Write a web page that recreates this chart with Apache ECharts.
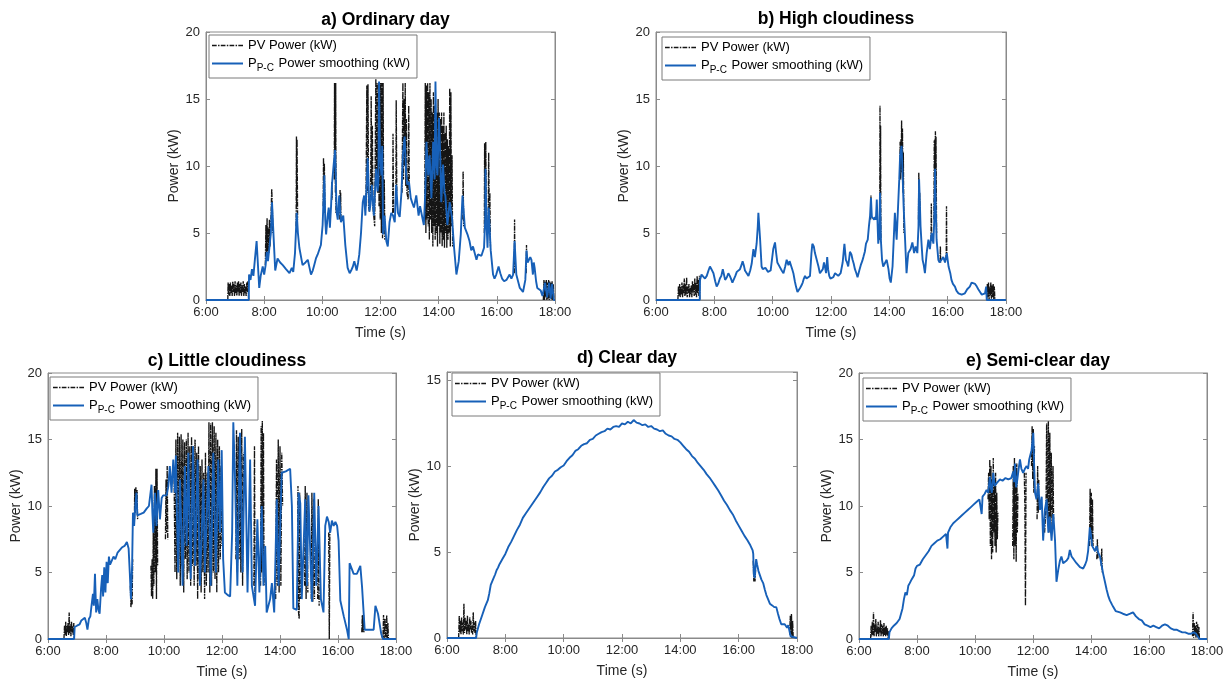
<!DOCTYPE html>
<html><head><meta charset="utf-8">
<script src="https://cdn.jsdelivr.net/npm/echarts@6/dist/echarts.min.js"></script>
<style>html,body{margin:0;padding:0;background:#fff}#c{width:1230px;height:680px}</style>
</head><body><div id="c"></div><script>
// ---------- data (time in hours, power in kW) ----------
const titles = ['a) Ordinary day','b) High cloudiness','c) Little cloudiness','d) Clear day','e) Semi-clear day'];
const legendNames = ['PV Power (kW)','PP-C Power smoothing (kW)'];
const xTickHours = [6,8,10,12,14,16,18];
const yMaxes = [20,20,20,15.5,20];

const aSm = [[6,0],[7.47,0],[7.48,1.9],[7.53,1.5],[7.58,2.3],[7.63,1.8],[7.68,3.0],[7.74,4.4],[7.78,4.5],[7.83,0.9],[7.88,1.8],[7.95,2.5],[8.0,1.9],[8.05,2.6],[8.09,3.6],[8.13,2.9],[8.18,3.9],[8.23,5.0],[8.27,7.3],[8.32,4.9],[8.38,2.2],[8.46,3.1],[8.55,2.8],[8.64,2.6],[8.75,2.3],[8.87,2.0],[8.95,2.4],[9.0,2.1],[9.06,3.5],[9.12,6.5],[9.16,5.0],[9.21,3.9],[9.32,2.6],[9.42,2.8],[9.5,3.0],[9.56,2.4],[9.61,1.9],[9.67,2.2],[9.72,2.6],[9.78,3.1],[9.84,3.4],[9.95,4.1],[10.01,5.6],[10.05,8.0],[10.07,9.3],[10.1,6.0],[10.13,4.9],[10.18,6.2],[10.22,6.9],[10.26,5.4],[10.3,7.0],[10.33,8.6],[10.39,10.1],[10.44,11.2],[10.49,6.6],[10.53,6.0],[10.58,7.8],[10.64,5.8],[10.72,6.3],[10.79,4.1],[10.87,2.4],[10.94,2.0],[10.99,2.2],[11.05,2.5],[11.1,2.9],[11.18,2.2],[11.23,2.8],[11.27,3.4],[11.33,5.0],[11.39,7.3],[11.44,7.8],[11.48,6.3],[11.56,10.6],[11.62,6.6],[11.66,7.2],[11.7,8.6],[11.77,6.3],[11.85,9.8],[11.9,8.1],[11.93,9.0],[11.95,16.3],[11.98,11.0],[12.03,9.3],[12.06,11.5],[12.09,4.9],[12.14,6.3],[12.2,4.4],[12.25,4.0],[12.31,5.8],[12.37,6.5],[12.43,6.3],[12.49,5.8],[12.54,8.6],[12.6,6.5],[12.66,6.2],[12.72,8.0],[12.77,10.8],[12.83,12.2],[12.88,9.5],[12.92,8.6],[12.98,8.8],[13.04,7.6],[13.1,7.2],[13.15,6.9],[13.23,7.8],[13.31,6.3],[13.36,7.0],[13.41,7.1],[13.49,5.6],[13.54,8.0],[13.58,11.8],[13.64,9.3],[13.69,10.8],[13.75,7.6],[13.81,11.8],[13.86,9.0],[13.89,16.3],[13.93,10.0],[13.96,9.3],[14.01,13.6],[14.05,11.0],[14.09,7.3],[14.15,10.1],[14.2,8.0],[14.23,7.8],[14.3,5.6],[14.38,7.3],[14.46,6.1],[14.53,3.9],[14.61,1.9],[14.69,2.9],[14.76,4.9],[14.82,7.8],[14.9,5.4],[14.99,4.9],[15.06,4.4],[15.12,3.7],[15.18,4.0],[15.24,3.9],[15.3,3.0],[15.35,3.4],[15.41,3.5],[15.47,3.3],[15.56,3.9],[15.6,6.0],[15.61,9.8],[15.64,6.0],[15.68,3.9],[15.72,6.9],[15.76,5.0],[15.79,3.7],[15.87,1.9],[15.92,1.6],[15.98,1.9],[16.06,2.5],[16.12,2.0],[16.18,1.6],[16.25,1.4],[16.33,1.5],[16.44,1.9],[16.5,1.6],[16.56,1.9],[16.61,4.4],[16.67,1.9],[16.73,1.4],[16.79,0.9],[16.9,0.6],[16.98,1.5],[17.02,3.7],[17.06,2.8],[17.1,2.9],[17.15,3.2],[17.19,3.0],[17.24,1.9],[17.27,2.8],[17.3,2.4],[17.35,1.4],[17.39,0.9],[17.45,1.0],[17.51,0.7],[17.57,0.3],[17.62,0.2],[17.66,1.3],[17.7,1.3],[17.73,0.2],[17.76,0.2],[17.8,1.3],[17.82,1.3],[17.85,0.1],[17.87,0.1],[17.9,1.2],[17.93,1.2],[17.96,0],[18,0]];
const aPv = [[6.75,0],[6.76,1.3],[6.78,0.4],[6.8,1.2],[6.82,0.3],[6.84,1.3],[6.86,0.5],[6.88,1.1],[6.9,0.3],[6.92,1.4],[6.94,0.6],[6.96,1.2],[6.98,0.3],[7.0,1.4],[7.02,0.5],[7.04,1.1],[7.06,0.3],[7.08,1.3],[7.1,0.6],[7.12,1.4],[7.14,0.3],[7.16,1.2],[7.18,0.5],[7.2,1.3],[7.22,0.3],[7.24,1.1],[7.26,0.6],[7.28,1.4],[7.3,0.3],[7.32,1.2],[7.34,0.5],[7.36,1.0],[7.38,0.3],[7.4,1.3],[7.42,0.6],[7.44,1.4],[7.46,0.4],[7.47,0],[7.48,null],
[8.04,2.6],[8.06,5.6],[8.08,3.2],[8.1,6.1],[8.12,3.0],[8.14,5.4],[8.16,3.5],[8.18,6.0],[8.2,4.0],[8.24,6.5],[8.26,8.3],[8.28,7.0],[8.3,5.0],[8.31,null],
[9.1,5.5],[9.11,12.2],[9.12,7.0],[9.13,12.0],[9.15,6.0],[9.16,null],
[10.03,7.0],[10.04,10.6],[10.06,8.5],[10.07,10.2],[10.09,6.5],[10.1,null],
[10.32,7.5],[10.33,8.8],[10.34,7.5],[10.35,null],
[10.41,9.0],[10.42,16.2],[10.43,9.0],[10.44,16.1],[10.45,8.0],[10.46,16.2],[10.47,6.5],[10.48,null],
[10.6,6.0],[10.61,8.2],[10.62,6.5],[10.63,8.0],[10.64,5.8],[10.65,null],
[11.5,7.0],[11.53,16.0],[11.55,8.0],[11.57,16.1],[11.59,7.0],[11.62,6.6],[11.66,8.0],[11.68,15.2],[11.7,8.6],[11.72,13.0],[11.74,7.0],[11.8,5.5],[11.84,16.5],[11.86,9.0],[11.88,16.2],[11.9,8.0],[11.93,16.2],[11.95,7.0],[11.97,16.2],[11.99,6.0],[12.01,16.2],[12.03,5.0],[12.05,16.2],[12.07,4.6],[12.09,16.2],[12.11,5.5],[12.13,9.0],[12.15,4.5],[12.16,null],
[12.42,6.5],[12.43,12.4],[12.45,6.5],[12.46,null],
[12.53,8.0],[12.54,14.9],[12.56,8.0],[12.57,null],
[12.74,8.0],[12.77,16.2],[12.79,9.0],[12.81,15.0],[12.83,10.0],[12.85,16.2],[12.87,8.5],[12.89,13.5],[12.91,8.0],[12.95,7.5],[12.97,14.5],[12.99,8.5],[13.0,null],
[13.52,6.0],[13.54,16.2],[13.56,5.0],[13.58,16.0],[13.6,6.0],[13.62,16.2],[13.64,5.5],[13.66,15.5],[13.68,4.5],[13.7,16.2],[13.72,6.0],[13.74,15.0],[13.76,5.0],[13.78,14.0],[13.8,4.0],[13.82,15.5],[13.84,5.5],[13.86,14.5],[13.88,4.5],[13.9,13.5],[13.92,5.0],[13.94,14.0],[13.96,4.0],[13.98,15.0],[14.0,5.5],[14.02,14.0],[14.04,4.2],[14.06,13.5],[14.08,5.0],[14.1,14.0],[14.12,4.0],[14.14,13.0],[14.16,4.5],[14.18,14.0],[14.2,3.9],[14.22,12.5],[14.24,5.0],[14.26,13.0],[14.28,3.9],[14.3,12.0],[14.32,4.5],[14.34,11.5],[14.36,5.0],[14.38,15.8],[14.4,4.0],[14.42,15.5],[14.44,5.5],[14.46,10.8],[14.48,4.0],[14.5,null],
[14.83,6.0],[14.84,9.6],[14.86,5.5],[14.87,null],
[15.57,5.0],[15.58,11.7],[15.6,6.0],[15.62,11.8],[15.64,5.5],[15.7,5.0],[15.72,11.0],[15.74,6.0],[15.76,8.0],[15.78,4.0],[15.79,null],
[16.6,2.0],[16.61,6.0],[16.62,2.5],[16.63,null],
[17.01,2.0],[17.02,4.1],[17.03,2.8],[17.04,null],
[17.6,0],[17.62,1.5],[17.64,0],[17.66,1.4],[17.68,0.2],[17.7,1.5],[17.72,0],[17.74,1.3],[17.76,0.1],[17.78,1.5],[17.8,0],[17.82,1.4],[17.84,0.2],[17.86,1.3],[17.88,0],[17.9,1.4],[17.92,0],[17.94,1.2],[17.96,0]];

const bSm = [[6,0],[7.5,0],[7.51,1.5],[7.56,1.9],[7.62,2.0],[7.68,1.6],[7.74,1.8],[7.8,2.2],[7.85,2.5],[7.9,2.3],[7.97,2.0],[8.03,1.4],[8.08,1.0],[8.13,1.2],[8.19,1.6],[8.24,1.8],[8.29,2.3],[8.33,1.9],[8.37,1.5],[8.43,1.7],[8.48,2.0],[8.53,1.8],[8.57,1.6],[8.62,1.3],[8.65,1.2],[8.72,1.8],[8.77,2.1],[8.83,2.2],[8.88,2.3],[8.93,2.6],[8.97,2.9],[9.01,2.6],[9.05,2.2],[9.11,2.0],[9.17,1.8],[9.23,2.2],[9.28,2.7],[9.34,3.8],[9.39,3.2],[9.45,4.2],[9.49,5.5],[9.51,6.5],[9.54,5.5],[9.57,4.5],[9.62,2.5],[9.66,2.3],[9.7,2.2],[9.75,2.4],[9.79,2.3],[9.84,2.1],[9.89,2.0],[9.93,2.2],[9.97,2.1],[10.02,3.8],[10.08,4.3],[10.12,3.5],[10.16,2.8],[10.21,2.6],[10.25,2.5],[10.31,2.2],[10.37,2.0],[10.43,2.5],[10.48,3.0],[10.54,2.6],[10.58,2.9],[10.62,2.8],[10.67,2.3],[10.71,2.0],[10.76,1.4],[10.8,1.0],[10.85,0.6],[10.9,0.7],[10.94,0.9],[10.99,1.1],[11.03,1.3],[11.07,1.6],[11.11,1.8],[11.16,1.6],[11.22,1.5],[11.28,1.8],[11.33,3.5],[11.36,4.2],[11.41,4.0],[11.45,3.5],[11.51,3.0],[11.57,2.5],[11.62,2.0],[11.68,2.0],[11.72,2.3],[11.76,2.8],[11.8,2.4],[11.83,2.0],[11.87,3.2],[11.9,2.3],[11.94,1.8],[11.98,1.6],[12.02,1.5],[12.08,1.7],[12.14,2.0],[12.2,1.9],[12.25,1.8],[12.33,2.0],[12.4,2.8],[12.46,4.2],[12.51,3.0],[12.55,2.8],[12.59,2.5],[12.65,3.6],[12.7,3.4],[12.74,3.0],[12.78,2.7],[12.82,2.3],[12.87,2.0],[12.91,1.7],[12.97,2.2],[13.02,2.6],[13.07,2.9],[13.11,3.2],[13.16,3.6],[13.2,4.2],[13.26,4.5],[13.3,5.5],[13.34,6.3],[13.37,7.6],[13.4,6.2],[13.45,6.2],[13.48,6.0],[13.51,6.2],[13.54,6.0],[13.57,7.5],[13.62,4.2],[13.66,5.0],[13.68,8.0],[13.71,4.5],[13.75,3.0],[13.79,2.5],[13.85,2.5],[13.91,3.0],[13.97,2.3],[14.01,1.6],[14.05,1.3],[14.11,2.5],[14.15,4.5],[14.19,6.5],[14.22,5.5],[14.25,4.5],[14.28,6.0],[14.31,7.5],[14.34,9.0],[14.37,10.8],[14.42,11.5],[14.46,9.0],[14.49,7.0],[14.54,4.5],[14.59,2.0],[14.62,2.8],[14.65,3.5],[14.7,3.6],[14.73,3.8],[14.79,4.3],[14.85,3.5],[14.9,4.0],[14.96,3.5],[15.0,5.5],[15.02,9.0],[15.05,7.0],[15.07,5.5],[15.11,4.0],[15.14,3.0],[15.18,2.6],[15.22,2.0],[15.28,3.5],[15.34,4.5],[15.39,3.8],[15.45,5.0],[15.51,4.2],[15.54,6.0],[15.57,9.8],[15.59,7.0],[15.62,4.5],[15.68,3.0],[15.72,2.8],[15.76,2.8],[15.85,3.2],[15.91,2.8],[15.97,3.5],[16.03,2.5],[16.09,2.0],[16.13,1.5],[16.18,1.2],[16.25,1.0],[16.3,0.7],[16.37,0.5],[16.48,0.4],[16.59,0.5],[16.67,0.8],[16.72,0.7],[16.76,1.0],[16.82,1.3],[16.86,1.4],[16.94,1.2],[17.0,1.0],[17.05,0.8],[17.11,0.6],[17.17,0.4],[17.22,0.3],[17.28,0.5],[17.32,1.0],[17.34,0],[18,0]];
const bPv = [[6.75,0],[6.77,1.0],[6.79,0.3],[6.81,1.2],[6.83,0.2],[6.85,1.0],[6.87,0.4],[6.89,1.3],[6.91,0.2],[6.93,1.1],[6.95,0.5],[6.97,1.6],[6.99,0.3],[7.01,1.2],[7.03,0.4],[7.05,1.7],[7.07,0.2],[7.09,1.0],[7.11,0.5],[7.13,1.2],[7.15,0.2],[7.17,0.9],[7.19,0.4],[7.21,1.1],[7.23,0.2],[7.25,1.4],[7.27,0.5],[7.29,1.2],[7.31,0.3],[7.33,1.6],[7.35,0.4],[7.37,1.3],[7.39,0.2],[7.41,1.8],[7.43,0.5],[7.45,1.5],[7.47,0.3],[7.49,1.8],[7.5,0],[7.51,null],
[13.36,6.0],[13.37,7.8],[13.38,6.2],[13.39,null],
[13.67,4.5],[13.68,14.5],[13.69,5.0],[13.7,13.0],[13.71,4.5],[13.72,null],
[14.36,9.0],[14.37,11.8],[14.39,9.0],[14.4,12.0],[14.41,10.0],[14.42,13.4],[14.44,9.5],[14.45,12.8],[14.47,8.0],[14.48,11.0],[14.5,5.0],[14.51,null],
[15.0,6.0],[15.01,9.5],[15.03,7.0],[15.04,8.0],[15.06,5.5],[15.07,null],
[15.43,4.5],[15.44,7.2],[15.45,5.0],[15.46,null],
[15.53,6.0],[15.54,11.9],[15.55,7.0],[15.56,12.0],[15.57,8.0],[15.58,12.6],[15.59,7.5],[15.6,12.2],[15.62,5.0],[15.63,null],
[15.74,2.8],[15.75,4.0],[15.76,2.8],[15.77,null],
[15.95,3.0],[15.96,7.0],[15.97,3.5],[15.98,null],
[17.34,0],[17.36,1.2],[17.38,0.2],[17.4,1.3],[17.42,0],[17.44,1.0],[17.46,0.3],[17.48,1.3],[17.5,0.1],[17.52,1.1],[17.54,0.2],[17.56,1.2],[17.58,0],[17.6,1.0],[17.62,0]];

const cSm = [[6,0],[6.9,0],[6.92,0.9],[7.0,1.0],[7.09,1.1],[7.15,1.4],[7.2,1.3],[7.27,1.6],[7.32,1.2],[7.36,0.7],[7.41,1.5],[7.46,1.7],[7.5,2.5],[7.55,3.4],[7.58,2.5],[7.62,4.9],[7.66,2.0],[7.7,3.0],[7.74,2.2],[7.78,1.9],[7.83,3.8],[7.87,4.8],[7.9,3.2],[7.94,5.4],[7.98,3.5],[8.02,5.8],[8.06,4.2],[8.1,6.2],[8.14,5.6],[8.2,5.9],[8.26,6.2],[8.32,6.0],[8.4,6.5],[8.48,6.7],[8.56,6.9],[8.64,7.0],[8.72,7.3],[8.78,6.8],[8.82,5.0],[8.86,3.0],[8.9,5.5],[8.93,9.5],[8.97,8.5],[9.01,10.0],[9.05,11.0],[9.08,9.3],[9.13,9.2],[9.2,9.4],[9.3,9.5],[9.4,9.8],[9.48,10.0],[9.51,10.1],[9.57,11.6],[9.6,9.5],[9.63,8.0],[9.69,11.0],[9.74,8.5],[9.8,11.2],[9.86,9.0],[9.92,10.6],[9.97,10.8],[10.03,10.7],[10.09,10.8],[10.15,11.5],[10.2,13.0],[10.26,11.0],[10.32,13.5],[10.38,11.0],[10.41,13.8],[10.45,9.0],[10.49,5.0],[10.55,12.0],[10.6,8.0],[10.64,4.0],[10.72,13.0],[10.78,7.0],[10.84,14.0],[10.92,4.5],[11.0,14.5],[11.07,5.5],[11.16,13.5],[11.24,4.0],[11.36,12.0],[11.41,5.0],[11.53,13.0],[11.61,4.0],[11.7,14.0],[11.79,5.0],[11.87,13.5],[11.93,8.0],[11.99,14.2],[12.04,6.0],[12.1,3.5],[12.2,3.3],[12.28,3.2],[12.35,8.0],[12.39,16.3],[12.45,12.0],[12.53,4.0],[12.62,15.5],[12.71,5.0],[12.79,15.2],[12.88,3.5],[12.97,13.5],[13.03,4.0],[13.14,2.5],[13.22,9.0],[13.29,3.5],[13.37,10.0],[13.43,4.0],[13.49,7.0],[13.54,2.0],[13.66,3.0],[13.72,4.2],[13.8,2.0],[13.89,10.5],[13.95,4.0],[14.06,12.5],[14.2,12.6],[14.35,12.8],[14.41,10.0],[14.46,2.3],[14.58,2.2],[14.64,11.0],[14.7,10.2],[14.75,3.0],[14.87,10.5],[14.93,4.0],[14.98,10.8],[15.1,2.8],[15.18,11.0],[15.25,4.0],[15.33,10.0],[15.41,3.0],[15.5,2.0],[15.56,8.5],[15.62,9.2],[15.68,8.8],[15.73,8.0],[15.79,8.9],[15.85,8.5],[15.91,8.8],[15.97,8.5],[16.02,7.4],[16.08,2.9],[16.2,1.7],[16.31,0.7],[16.37,0],[16.39,0],[16.4,5.7],[16.54,4.9],[16.65,4.9],[16.71,5.0],[16.77,5.5],[16.83,3.9],[16.92,0.7],[17.06,0.7],[17.23,0.7],[17.29,2.5],[17.38,1.9],[17.49,0.4],[17.55,0],[18,0]];
const cPv = [[6.55,0],[6.57,1.0],[6.59,0.3],[6.61,1.3],[6.63,0.2],[6.65,1.0],[6.67,0.5],[6.69,1.2],[6.71,0.3],[6.73,2.0],[6.75,0.4],[6.77,1.1],[6.79,0.2],[6.81,1.3],[6.83,0.5],[6.85,1.0],[6.87,0.3],[6.89,1.2],[6.91,0],[6.92,null],
[8.84,4.0],[8.86,2.4],[8.88,3.0],[8.9,2.6],[8.92,6.0],[8.93,null],
[8.98,9.0],[8.99,11.3],[9.01,9.5],[9.03,11.4],[9.05,10.0],[9.07,11.2],[9.09,9.0],[9.1,null],
[9.55,5.5],[9.57,3.2],[9.59,6.0],[9.61,3.0],[9.63,8.0],[9.65,4.0],[9.67,11.5],[9.7,5.0],[9.72,12.8],[9.74,3.0],[9.76,12.8],[9.78,5.5],[9.8,null],
[10.05,7.5],[10.07,12.0],[10.09,8.0],[10.11,13.0],[10.13,7.5],[10.14,null],
[10.35,12.0],[10.38,5.0],[10.41,15.0],[10.44,4.5],[10.47,15.5],[10.5,6.0],[10.53,15.2],[10.56,4.0],[10.59,15.4],[10.62,5.5],[10.65,15.0],[10.68,3.5],[10.71,14.8],[10.74,6.0],[10.77,15.0],[10.8,4.5],[10.83,15.5],[10.86,5.0],[10.89,14.5],[10.92,4.0],[10.95,15.2],[10.98,5.5],[11.01,14.5],[11.04,4.0],[11.07,15.0],[11.1,5.5],[11.13,14.0],[11.16,3.0],[11.19,14.5],[11.22,4.5],[11.25,13.0],[11.28,3.5],[11.31,13.5],[11.34,5.0],[11.37,12.5],[11.4,3.0],[11.43,14.0],[11.46,4.0],[11.49,12.5],[11.52,5.0],[11.55,16.3],[11.58,3.5],[11.61,16.2],[11.64,4.0],[11.67,16.3],[11.7,5.0],[11.73,16.0],[11.76,4.5],[11.79,15.5],[11.82,3.5],[11.85,15.0],[11.88,5.0],[11.91,14.5],[11.94,6.0],[11.97,13.0],[12.0,7.0],[12.02,null],
[12.48,6.0],[12.5,15.7],[12.53,5.0],[12.56,15.2],[12.59,6.0],[12.62,15.0],[12.65,5.0],[12.68,15.8],[12.71,4.0],[12.74,14.0],[12.76,null],
[13.1,4.0],[13.12,14.5],[13.14,3.0],[13.16,null],
[13.33,4.0],[13.35,16.0],[13.37,5.0],[13.39,16.4],[13.41,6.0],[13.43,15.5],[13.45,4.0],[13.47,null],
[13.85,3.0],[13.88,13.5],[13.91,4.0],[13.94,15.0],[13.97,3.5],[14.0,14.5],[14.03,4.0],[14.06,14.0],[14.09,10.0],[14.11,null],
[14.6,3.0],[14.62,11.5],[14.64,2.0],[14.66,1.5],[14.68,11.0],[14.7,3.0],[14.72,null],
[14.85,4.0],[14.87,11.5],[14.9,3.0],[14.93,11.0],[14.96,3.5],[14.98,null],
[15.08,3.0],[15.1,11.0],[15.13,2.8],[15.16,10.5],[15.19,3.0],[15.21,null],
[15.3,3.0],[15.32,10.5],[15.35,2.5],[15.37,null],
[15.68,8.0],[15.7,0],[15.72,8.5],[15.73,null],
[16.82,0.5],[16.84,1.8],[16.86,0.5],[16.88,1.8],[16.9,0.5],[16.91,null],
[17.5,0.3],[17.55,0],[17.57,1.8],[17.59,0],[17.62,1.5],[17.65,0],[17.68,1.8],[17.7,0],[17.72,1.2],[17.74,0]];

const dSm = [[6,0],[7.0,0],[7.02,0.3],[7.1,0.8],[7.2,1.3],[7.3,1.8],[7.35,2.0],[7.4,2.2],[7.45,2.6],[7.5,3.1],[7.55,3.3],[7.6,3.5],[7.65,3.7],[7.7,3.95],[7.75,4.1],[7.8,4.3],[7.85,4.4],[7.9,4.6],[7.95,4.75],[8.0,4.9],[8.1,5.3],[8.2,5.6],[8.3,5.95],[8.4,6.3],[8.5,6.6],[8.6,7.0],[8.7,7.25],[8.8,7.5],[8.9,7.75],[9.0,8.0],[9.1,8.25],[9.2,8.5],[9.3,8.8],[9.4,9.05],[9.5,9.3],[9.6,9.45],[9.7,9.7],[9.8,9.8],[9.9,9.95],[10.0,10.05],[10.1,10.3],[10.2,10.5],[10.3,10.65],[10.4,10.9],[10.5,11.0],[10.6,11.2],[10.7,11.3],[10.8,11.35],[10.9,11.55],[11.0,11.6],[11.1,11.8],[11.2,11.9],[11.3,12.0],[11.4,12.05],[11.5,12.2],[11.6,12.15],[11.7,12.3],[11.8,12.35],[11.9,12.3],[12.0,12.5],[12.1,12.45],[12.2,12.6],[12.3,12.5],[12.4,12.7],[12.5,12.55],[12.6,12.5],[12.7,12.4],[12.8,12.45],[12.9,12.3],[13.0,12.35],[13.1,12.2],[13.2,12.15],[13.3,12.05],[13.4,12.1],[13.5,11.9],[13.6,11.8],[13.7,11.75],[13.8,11.6],[13.9,11.55],[14.0,11.4],[14.1,11.2],[14.2,11.0],[14.3,10.85],[14.4,10.6],[14.5,10.45],[14.6,10.2],[14.7,10.0],[14.8,9.8],[14.9,9.55],[15.0,9.35],[15.1,9.1],[15.2,8.85],[15.3,8.6],[15.4,8.3],[15.5,8.0],[15.6,7.75],[15.7,7.45],[15.8,7.2],[15.9,6.85],[16.0,6.55],[16.1,6.25],[16.2,5.95],[16.3,5.7],[16.4,5.4],[16.48,5.1],[16.5,4.9],[16.52,3.7],[16.55,3.5],[16.58,4.2],[16.6,4.6],[16.63,4.3],[16.68,3.9],[16.72,3.8],[16.78,3.4],[16.84,3.2],[16.9,2.8],[16.95,2.5],[17.0,2.3],[17.07,2.0],[17.15,1.9],[17.22,1.8],[17.29,1.8],[17.35,1.4],[17.4,1.1],[17.46,0.8],[17.52,0.75],[17.58,0.8],[17.62,0.7],[17.66,0.6],[17.7,0.75],[17.75,0.8],[17.78,0.1],[17.82,0],[18,0]];
const dPv = [[6.4,0],[6.42,1.3],[6.44,0.3],[6.46,1.0],[6.48,0.2],[6.5,1.2],[6.52,0.4],[6.54,0.9],[6.56,0.2],[6.58,2.0],[6.6,0.3],[6.62,1.2],[6.64,0.5],[6.66,1.0],[6.68,0.2],[6.7,1.3],[6.72,0.4],[6.74,0.8],[6.76,0.2],[6.78,1.2],[6.8,0.5],[6.82,1.0],[6.84,0.3],[6.86,0.7],[6.88,0.2],[6.9,1.5],[6.92,0.4],[6.94,0.9],[6.96,0.3],[6.98,1.0],[7.0,0],[7.01,null],
[16.5,4.5],[16.52,3.3],[16.54,3.5],[16.56,3.3],[16.58,4.0],[16.59,null],
[17.75,0.2],[17.77,1.3],[17.79,0.2],[17.81,1.4],[17.83,0],[17.85,1.0],[17.87,0]];

const eSm = [[6,0],[7.03,0],[7.05,0.5],[7.12,0.8],[7.2,1.0],[7.3,1.2],[7.4,1.5],[7.45,1.6],[7.5,2.3],[7.55,3.0],[7.6,3.5],[7.65,3.3],[7.7,4.0],[7.75,4.2],[7.82,4.5],[7.9,4.8],[7.95,5.3],[8.0,5.5],[8.05,5.4],[8.1,5.6],[8.2,6.0],[8.3,6.3],[8.4,6.6],[8.5,7.0],[8.6,7.2],[8.7,7.4],[8.8,7.5],[8.9,7.7],[9.0,7.9],[9.03,8.0],[9.05,6.8],[9.07,8.0],[9.15,8.4],[9.25,8.7],[9.35,8.9],[9.45,9.1],[9.55,9.3],[9.65,9.5],[9.75,9.7],[9.85,9.9],[9.95,10.1],[10.05,10.3],[10.15,10.5],[10.2,10.6],[10.23,9.4],[10.26,10.7],[10.33,10.9],[10.4,11.2],[10.46,11.0],[10.51,12.2],[10.55,11.3],[10.58,11.0],[10.63,12.5],[10.68,11.5],[10.74,11.7],[10.8,11.8],[10.86,12.0],[10.95,11.9],[11.05,12.1],[11.15,12.0],[11.25,12.1],[11.32,12.6],[11.35,11.8],[11.38,13.2],[11.42,11.4],[11.46,12.0],[11.5,12.7],[11.55,13.5],[11.6,12.8],[11.66,12.5],[11.72,12.8],[11.78,13.0],[11.83,12.8],[11.87,13.5],[11.95,14.2],[12.01,15.5],[12.04,13.0],[12.07,11.0],[12.12,10.5],[12.18,11.7],[12.24,9.7],[12.3,10.7],[12.35,7.4],[12.41,9.7],[12.47,10.5],[12.53,8.0],[12.58,9.2],[12.64,7.4],[12.7,9.4],[12.76,7.4],[12.81,4.3],[12.87,5.2],[12.93,5.9],[12.98,6.2],[13.04,5.7],[13.1,5.8],[13.16,5.9],[13.22,6.1],[13.27,6.7],[13.33,6.2],[13.4,6.0],[13.5,5.7],[13.56,5.8],[13.62,5.4],[13.68,5.5],[13.73,5.3],[13.8,5.6],[13.85,5.9],[13.9,6.6],[13.96,8.4],[14.0,7.8],[14.04,7.0],[14.08,7.0],[14.14,6.6],[14.19,7.0],[14.25,6.5],[14.31,6.2],[14.36,5.6],[14.42,4.9],[14.48,4.3],[14.54,3.7],[14.6,3.2],[14.65,2.9],[14.72,2.6],[14.77,2.4],[14.85,2.1],[15.0,2.0],[15.1,1.9],[15.23,1.8],[15.35,1.9],[15.45,2.0],[15.55,1.7],[15.65,1.5],[15.75,1.4],[15.85,1.1],[15.95,1.0],[16.05,0.9],[16.15,1.0],[16.25,0.9],[16.35,0.8],[16.45,1.0],[16.55,1.1],[16.65,1.0],[16.75,0.8],[16.85,0.7],[16.95,0.7],[17.05,0.6],[17.15,0.5],[17.25,0.5],[17.35,0.4],[17.45,0.4],[17.55,0.5],[17.62,0.4],[17.68,0.3],[17.74,0],[18,0]];
const ePv = [[6.4,0],[6.42,1.0],[6.44,0.2],[6.46,1.3],[6.48,0.3],[6.5,2.0],[6.52,0.2],[6.54,1.1],[6.56,0.5],[6.58,1.5],[6.6,0.2],[6.62,1.0],[6.64,0.4],[6.66,1.3],[6.68,0.2],[6.7,0.9],[6.72,0.5],[6.74,1.4],[6.76,0.2],[6.78,1.1],[6.8,0.4],[6.82,1.0],[6.84,0.2],[6.86,1.2],[6.88,0.3],[6.9,0.9],[6.92,0.2],[6.94,1.0],[6.96,0.3],[6.98,0.8],[7.0,0.1],[7.02,0.6],[7.03,0],[7.04,null],
[10.45,10.5],[10.47,12.5],[10.49,9.0],[10.51,13.5],[10.53,7.0],[10.55,13.0],[10.57,6.0],[10.59,12.0],[10.61,6.5],[10.63,13.6],[10.65,8.0],[10.67,11.5],[10.69,7.0],[10.71,12.5],[10.73,6.5],[10.75,11.0],[10.77,7.5],[10.79,9.5],[10.8,null],
[11.3,7.0],[11.32,13.0],[11.34,6.0],[11.36,13.6],[11.38,7.0],[11.4,12.8],[11.42,5.8],[11.44,13.2],[11.46,8.0],[11.48,11.0],[11.5,null],
[11.7,12.5],[11.72,10.0],[11.74,2.5],[11.76,12.5],[11.77,null],
[11.95,13.0],[11.97,16.0],[11.99,12.0],[12.01,15.8],[12.03,11.0],[12.05,14.5],[12.06,null],
[12.14,9.0],[12.16,13.0],[12.18,9.5],[12.2,12.0],[12.21,null],
[12.4,8.0],[12.45,10.0],[12.47,16.2],[12.5,9.0],[12.53,16.5],[12.55,8.0],[12.58,15.5],[12.6,9.0],[12.63,14.0],[12.66,8.0],[12.69,13.0],[12.71,9.0],[12.72,null],
[13.95,7.0],[13.97,11.3],[13.99,7.5],[14.01,11.0],[14.03,7.0],[14.05,10.5],[14.07,7.0],[14.08,null],
[14.2,6.0],[14.22,7.5],[14.24,6.0],[14.26,null],
[14.35,5.5],[14.37,6.8],[14.39,5.0],[14.4,null],
[17.5,0.2],[17.52,2.0],[17.54,0.1],[17.56,1.2],[17.58,0.3],[17.6,1.0],[17.62,0.1],[17.64,1.3],[17.66,0.2],[17.68,1.1],[17.7,0.1],[17.72,0.9],[17.74,0]];

const smoothSets = [aSm, bSm, cSm, dSm, eSm];
const pvSets = [aPv, bPv, cPv, dPv, ePv];

// ---------- layout ----------
const grids = [
  {left:206, top:32, width:349, height:268},
  {left:656, top:32, width:350, height:268},
  {left:48,  top:373, width:348, height:266},
  {left:447, top:372, width:350, height:266},
  {left:859, top:373, width:348, height:266}
];
const legendPos = [[209,35],[662,37],[50,377],[452,373],[863,378]];
const titleY = [6, 5, 347, 344, 347];

const FONT = 'Liberation Sans, Arial, sans-serif';
const AX = '#8a8a8a';
const TXT = '#262626';
const BLUE = '#1760b8';
const BLACK = '#151515';
const ICON_DASHDOT = 'path://M0 0h4.5v1.5H0z M5.8 0h1.4v1.5H5.8z M8.4 0h4.5v1.5H8.4z M14.2 0h1.4v1.5h-1.4z M16.8 0h4.5v1.5h-4.5z M22.6 0h1.4v1.5h-1.4z M25.2 0h4.5v1.5h-4.5z';
const ICON_SOLID = 'path://M0 0h31v2H0z';

const option = {animation:false, backgroundColor:'#fff', title:[], grid:[], xAxis:[], yAxis:[], series:[], legend:[]};

grids.forEach((g, i) => {
  option.grid.push(Object.assign({show:true, borderColor:AX, borderWidth:1, backgroundColor:'transparent'}, g));
  option.title.push({
    text: titles[i], left: g.left + g.width/2, top: titleY[i], textAlign:'center',
    textStyle:{fontFamily:FONT, fontSize:17.5, fontWeight:'bold', color:'#000'}
  });
  const xi = option.xAxis.length, yi = option.yAxis.length;
  option.xAxis.push({
    gridIndex:i, type:'value', min:xTickHours[0], max:xTickHours[xTickHours.length-1], interval:2,
    name:'Time (s)', nameLocation:'middle', nameGap:26,
    nameTextStyle:{fontFamily:FONT, fontSize:14, color:TXT},
    axisLine:{show:true, lineStyle:{color:AX, width:1}},
    axisTick:{show:true, inside:true, length:4, lineStyle:{color:AX}},
    axisLabel:{fontFamily:FONT, fontSize:13, color:TXT, margin:6, formatter:v => v + ':00'},
    splitLine:{show:false}
  });
  option.xAxis.push({
    gridIndex:i, type:'value', position:'top', min:6, max:18, interval:2,
    axisLine:{show:true, lineStyle:{color:AX}}, axisTick:{show:true, inside:true, length:4, lineStyle:{color:AX}},
    axisLabel:{show:false}, splitLine:{show:false}
  });
  const ymax = yMaxes[i];
  option.yAxis.push({
    gridIndex:i, type:'value', min:0, max:ymax, interval:5,
    name:'Power (kW)', nameLocation:'middle', nameGap:24,
    nameTextStyle:{fontFamily:FONT, fontSize:14, color:TXT},
    axisLine:{show:true, lineStyle:{color:AX, width:1}},
    axisTick:{show:true, inside:true, length:4, lineStyle:{color:AX}},
    axisLabel:{fontFamily:FONT, fontSize:13, color:TXT, margin:6, showMaxLabel:true,
      formatter:v => (v % 5 === 0 ? String(v) : '')},
    splitLine:{show:false}
  });
  option.yAxis.push({
    gridIndex:i, type:'value', position:'right', min:0, max:ymax, interval:5,
    axisLine:{show:true, lineStyle:{color:AX}}, axisTick:{show:true, inside:true, length:4, lineStyle:{color:AX}},
    axisLabel:{show:false}, splitLine:{show:false}
  });
  option.series.push({
    name:legendNames[0], type:'line', xAxisIndex:xi, yAxisIndex:yi, data:pvSets[i],
    symbol:'none', connectNulls:false, z:2,
    lineStyle:{color:BLACK, width:1.35, type:[5,1,1.5,1]}, itemStyle:{color:BLACK}
  });
  option.series.push({
    name:legendNames[1], type:'line', xAxisIndex:xi, yAxisIndex:yi, data:smoothSets[i],
    symbol:'none', z:3,
    lineStyle:{color:BLUE, width:1.9}, itemStyle:{color:BLUE}
  });
  option.legend.push({
    orient:'vertical', left:legendPos[i][0], top:legendPos[i][1],
    data:[{name:legendNames[0], icon:ICON_DASHDOT}, {name:legendNames[1], icon:ICON_SOLID}],
    itemWidth:31, itemHeight:12, itemGap:5,
    itemStyle:{borderWidth:0},
    padding:[4,7,5,3], borderColor:'#7a7a7a', borderWidth:1, backgroundColor:'#fff',
    selectedMode:false,
    textStyle:{fontFamily:FONT, fontSize:13, color:'#000',
      rich:{p:{fontFamily:FONT, fontSize:13, color:'#000'},
            s:{fontFamily:FONT, fontSize:10, color:'#000', padding:[9,1,0,0]}}},
    formatter: name => name === legendNames[1] ? '{p|P}{s|P-C}{p| Power smoothing (kW)}' : name
  });
});

const chart = echarts.init(document.getElementById('c'), null, {renderer:'canvas'});
chart.setOption(option);
</script></body></html>
